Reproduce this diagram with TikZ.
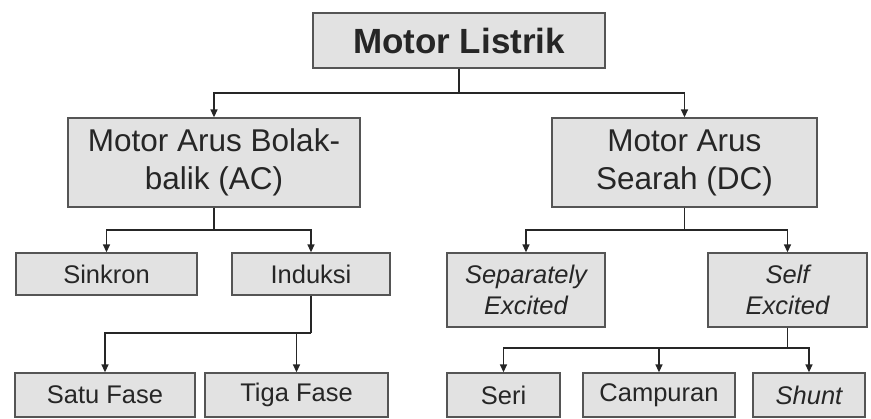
\documentclass[tikz,border=0pt]{standalone}
\usepackage{fontspec}
\setmainfont{Liberation Sans}
\usetikzlibrary{arrows.meta}
\definecolor{boxfill}{HTML}{E2E2E2}
\definecolor{boxline}{HTML}{555555}
\definecolor{txt}{HTML}{262626}
\begin{document}
\begin{tikzpicture}[x=1pt,y=-1pt,
  box/.style={draw=boxline,fill=boxfill,line width=1.3pt,rectangle,inner sep=0pt,
    align=center,text=txt},
  lvl0/.style={box,font=\fontsize{35}{40}\selectfont\bfseries},
  lvl1/.style={box,font=\fontsize{31.5}{38}\selectfont},
  lvl2/.style={box,font=\fontsize{25.5}{31}\selectfont},
  conn/.style={draw=txt,line width=1.4pt},
  arr/.style={conn,-{Triangle[length=8pt,width=7pt]}}]
\useasboundingbox (0,0) rectangle (871,419);
\node[lvl0,minimum width=292,minimum height=55] (top) at (459,40.5) {Motor Listrik};
\node[lvl1,minimum width=292,minimum height=89] (ac) at (214,162.5) {Motor Arus Bolak-\\balik (AC)};
\node[lvl1,minimum width=265,minimum height=89] (dc) at (684.5,162.5) {Motor Arus\\Searah (DC)};
\node[lvl2,minimum width=181,minimum height=42] (sink) at (106.5,274) {Sinkron};
\node[lvl2,minimum width=158,minimum height=42] (ind) at (311,274) {Induksi};
\node[lvl2,minimum width=158,minimum height=74] (sep) at (526,290) {\itshape Separately\\\itshape Excited};
\node[lvl2,minimum width=159,minimum height=74] (self) at (787.5,290) {\itshape Self\\\itshape Excited};
\node[lvl2,minimum width=180,minimum height=44] (satu) at (105,395) {Satu Fase};
\node[lvl2,minimum width=183,minimum height=44] (tiga) at (296.5,395) {Tiga Fase};
\node[lvl2,minimum width=113,minimum height=44] (seri) at (503.5,395) {Seri};
\node[lvl2,minimum width=152,minimum height=44] (camp) at (659,395) {Campuran};
\node[lvl2,minimum width=112,minimum height=44] (shunt) at (809,395) {\itshape Shunt};
% junctions
\coordinate (j0) at (459,93);
\coordinate (j1) at (214,230);
\coordinate (j2) at (684.5,230);
\coordinate (j3) at (311,333);
\coordinate (j4) at (787.5,348);
\draw[conn] (top.south) -- (j0);
\draw[arr] (j0) -| (ac.north);
\draw[arr] (j0) -| (dc.north);
\draw[conn] (ac.south) -- (j1);
\draw[arr] (j1) -| (sink.north);
\draw[arr] (j1) -| (ind.north);
\draw[conn] (dc.south) -- (j2);
\draw[arr] (j2) -| (sep.north);
\draw[arr] (j2) -| (self.north);
\draw[conn] (ind.south) -- (j3);
\draw[arr] (j3) -| (satu.north);
\draw[arr] (j3) -| (tiga.north);
\draw[conn] (self.south) -- (j4);
\draw[arr] (j4) -| (seri.north);
\draw[arr] (j4) -| (camp.north);
\draw[arr] (j4) -| (shunt.north);
\end{tikzpicture}
\end{document}
